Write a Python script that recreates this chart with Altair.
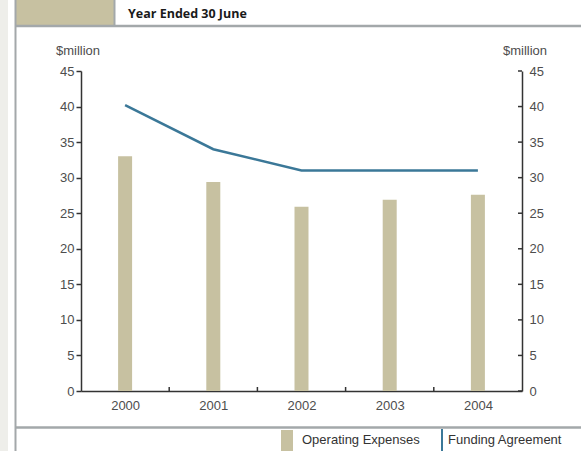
import altair as alt
import pandas as pd

# Financial years and the two series ($ million)
years = [2000, 2001, 2002, 2003, 2004]
operating_expenses = [33.0, 29.4, 25.9, 26.9, 27.6]
funding_agreement = [40.2, 34.0, 31.0, 31.0, 31.0]

y_ticks = [0, 5, 10, 15, 20, 25, 30, 35, 40, 45]
year_bounds = [2000.5, 2001.5, 2002.5, 2003.5]

TAN = "#c7c1a1"
BLUE = "#3b7898"
FRAME = "#a3a8aa"
AXIS = "#333333"
LABEL = "#4d4d4d"
FONT = "Liberation Sans"
FS = 13

W, H = 441, 320

df = pd.DataFrame({"year": years, "expenses": operating_expenses, "funding": funding_agreement})
ticks_df = pd.DataFrame({"v": y_ticks})
bounds_df = pd.DataFrame({"b": year_bounds})
one = alt.Data(values=[{}])

x_scale = alt.Scale(domain=[1999.5, 2004.5], nice=False, zero=False, padding=0)
y_scale = alt.Scale(domain=[0, 45], nice=False)

x_axis = alt.Axis(values=years, format="d", ticks=False, grid=False, title=None,
                  domainColor=AXIS, domainWidth=1.5, labelPadding=8,
                  labelFont=FONT, labelFontSize=FS, labelColor=LABEL)

bars = alt.Chart(df).mark_bar(color=TAN, size=14).encode(
    x=alt.X("year:Q", scale=x_scale, axis=x_axis),
    y=alt.Y("expenses:Q", scale=y_scale,
            axis=alt.Axis(values=y_ticks, orient="left", grid=False, title=None,
                          domainColor=AXIS, domainWidth=1.5, tickColor=AXIS,
                          tickSize=5, tickWidth=1.5, labelPadding=2,
                          labelFont=FONT, labelFontSize=FS, labelColor=LABEL)),
)

line = alt.Chart(df).mark_line(color=BLUE, strokeWidth=2.5).encode(
    x=alt.X("year:Q", scale=x_scale, axis=x_axis),
    y=alt.Y("funding:Q", scale=y_scale,
            axis=alt.Axis(values=y_ticks, orient="right", grid=False, title=None,
                          domainColor=AXIS, domainWidth=1.5, ticks=False,
                          labelPadding=7,
                          labelFont=FONT, labelFontSize=FS, labelColor=LABEL)),
)

# inward ticks on the right axis
right_ticks = alt.Chart(ticks_df).mark_rule(color=AXIS, strokeWidth=1.5).encode(
    y=alt.Y("v:Q", scale=y_scale, axis=None),
    x=alt.value(W - 4), x2=alt.value(W),
)

# inward ticks between the years on the bottom axis
bottom_ticks = alt.Chart(bounds_df).mark_rule(color=AXIS, strokeWidth=1.5).encode(
    x=alt.X("b:Q", scale=x_scale, axis=x_axis),
    y=alt.value(H - 4), y2=alt.value(H),
)

# page furniture: side strip, frame lines, header box
strip = alt.Chart(one).mark_rect(color="#eeeeea").encode(
    x=alt.value(-81), x2=alt.value(-73), y=alt.value(-71), y2=alt.value(380))
header_box = alt.Chart(one).mark_rect(color=TAN).encode(
    x=alt.value(-65), x2=alt.value(33), y=alt.value(-71), y2=alt.value(-46))
frame_left = alt.Chart(one).mark_rule(color=FRAME, strokeWidth=2).encode(
    x=alt.value(-65.5), y=alt.value(-71), y2=alt.value(380))
frame_box = alt.Chart(one).mark_rule(color=FRAME, strokeWidth=2).encode(
    x=alt.value(33.5), y=alt.value(-71), y2=alt.value(-45))
frame_top = alt.Chart(one).mark_rule(color=FRAME, strokeWidth=2.5).encode(
    x=alt.value(-66), x2=alt.value(500), y=alt.value(-45))
frame_bottom = alt.Chart(one).mark_rule(color=FRAME, strokeWidth=2.5).encode(
    x=alt.value(-66), x2=alt.value(500), y=alt.value(356.5))

subtitle = alt.Chart(one).mark_text(
    text="Year Ended 30 June", font="Open Sans", fontWeight="bold", fontSize=12.5,
    color="#1a1a1a", align="left", baseline="alphabetic",
).encode(x=alt.value(47), y=alt.value(-53))

unit_left = alt.Chart(one).mark_text(
    text="$million", font=FONT, fontSize=FS, color=LABEL, align="center", baseline="middle",
).encode(x=alt.value(-3), y=alt.value(-20))
unit_right = alt.Chart(one).mark_text(
    text="$million", font=FONT, fontSize=FS, color=LABEL, align="center", baseline="middle",
).encode(x=alt.value(444), y=alt.value(-20))

# legend
leg_swatch = alt.Chart(one).mark_rect(color=TAN).encode(
    x=alt.value(200), x2=alt.value(212), y=alt.value(359), y2=alt.value(380))
leg_text1 = alt.Chart(one).mark_text(
    text="Operating Expenses", font=FONT, fontSize=FS, color="#333333",
    align="left", baseline="middle",
).encode(x=alt.value(221), y=alt.value(369))
leg_line = alt.Chart(one).mark_rule(color=BLUE, strokeWidth=2).encode(
    x=alt.value(361), y=alt.value(358), y2=alt.value(380))
leg_text2 = alt.Chart(one).mark_text(
    text="Funding Agreement", font=FONT, fontSize=FS, color="#333333",
    align="left", baseline="middle",
).encode(x=alt.value(367), y=alt.value(369))

chart = alt.layer(
    strip, header_box, frame_left, frame_box, frame_top, frame_bottom,
    bars, line, right_ticks, bottom_ticks,
    subtitle, unit_left, unit_right,
    leg_swatch, leg_text1, leg_line, leg_text2,
).resolve_scale(y="independent").properties(
    width=W, height=H,
    autosize=alt.AutoSizeParams(type="none"),
    padding={"left": 81, "top": 71, "right": 59, "bottom": 60},
    background="white",
).configure_view(stroke=None)

chart.save("out.html", embed_options={"renderer": "svg", "actions": False})
